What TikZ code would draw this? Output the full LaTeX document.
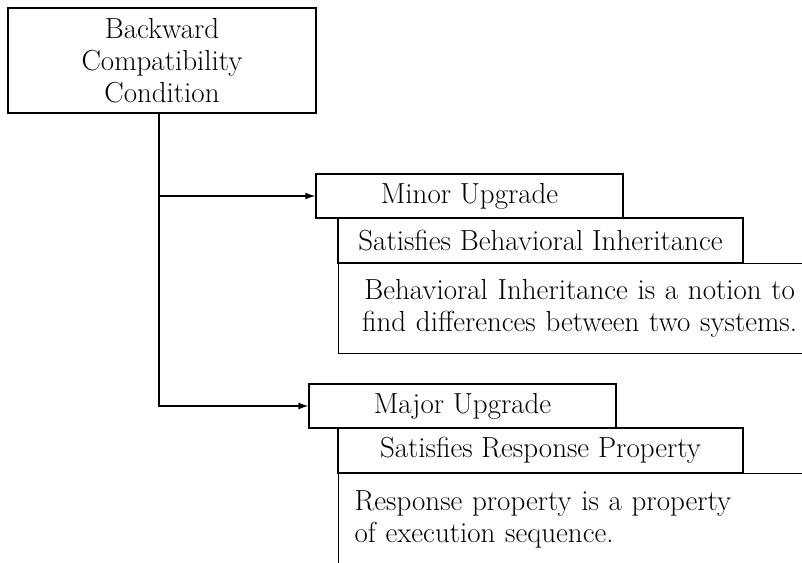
\documentclass[tikz,border=0pt]{standalone}
\usetikzlibrary{arrows.meta}
\begin{document}
\begin{tikzpicture}[x=1pt,y=-1pt, line width=1.3pt,
  font=\fontsize{29}{32}\selectfont,
  box/.style={draw, rectangle, inner sep=0pt, align=center},
  desc/.style={draw, rectangle, anchor=north west, inner xsep=16pt, inner ysep=0pt, text width=450pt},
  arr/.style={-{Latex[length=10pt,width=7pt]}}]
\useasboundingbox (0,0) rectangle (802,562);
\clip (0,0) rectangle (802,562);
\node[box, minimum width=308pt, minimum height=105pt] (top) at (162,60.5) {Backward\\Compatibility\\Condition};
\node[box, minimum width=307pt, minimum height=44pt] (minor) at (469.5,196) {Minor Upgrade};
\node[box, minimum width=405pt, minimum height=45pt] (sbi) at (540.5,240.5) {Satisfies Behavioral Inheritance};
\node[desc, align=center, minimum height=90pt] (d1) at (338,263) {Behavioral Inheritance is a notion to\\find differences between two systems.};
\node[box, minimum width=307pt, minimum height=44pt] (major) at (462.5,406) {Major Upgrade};
\node[box, minimum width=405pt, minimum height=45pt] (srp) at (540.5,450.5) {Satisfies Response Property};
\node[desc, align=left, minimum height=92pt] (d2) at (338,473) {Response property is a property\\of execution sequence.};
\draw[arr] ([xshift=-3pt]top.south) |- (minor.west);
\draw[arr] ([xshift=-3pt]top.south) |- (major.west);
\end{tikzpicture}
\end{document}
